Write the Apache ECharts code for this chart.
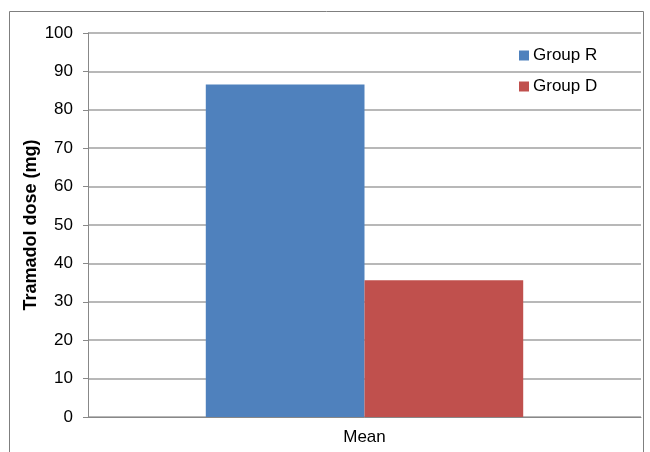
<!DOCTYPE html>
<html>
<head>
    <meta charset="utf-8">
    <script src="https://cdn.jsdelivr.net/npm/echarts@6/dist/echarts.min.js"></script>
    <style>
        body { margin: 0; background: #fff; }
    </style>
</head>
<body>
    <div id="main" style="width: 650px;height:452px;"></div>
    <script>
        // 数据
        var categories = ['Mean'];
        var groupNames = ['Group R', 'Group D'];
        var groupR = [86.6];
        var groupD = [35.6];
        var yTicks = [0, 10, 20, 30, 40, 50, 60, 70, 80, 90, 100];

        var myChart = echarts.init(document.getElementById('main'));
        var font = 'Liberation Sans, Arial, sans-serif';

        var option = {
            animation: false,
            color: ['#4f81bd', '#c0504d'],
            textStyle: { fontFamily: font },
            graphic: [{
                type: 'rect',
                shape: { x: 9.5, y: 11.5, width: 634, height: 470 },
                style: { fill: 'none', stroke: '#7f7f7f', lineWidth: 1 }
            }],
            legend: {
                orient: 'vertical',
                left: 514,
                top: 42,
                itemWidth: 10,
                itemHeight: 10,
                itemGap: 14,
                icon: 'rect',
                data: groupNames,
                textStyle: { fontSize: 17, color: '#000', fontFamily: font, padding: [0, 0, 0, -1] }
            },
            grid: {
                left: 88,
                right: 9,
                top: 33,
                bottom: 35
            },
            xAxis: {
                type: 'category',
                data: categories,
                axisLine: { lineStyle: { color: '#888', width: 1 } },
                axisTick: { show: false },
                axisLabel: { fontSize: 17, color: '#000', margin: 12 }
            },
            yAxis: {
                type: 'value',
                name: 'Tramadol dose (mg)',
                nameLocation: 'middle',
                nameGap: 48,
                nameMoveOverlap: false,
                nameTextStyle: { fontSize: 18, fontWeight: 'bold', color: '#000', fontFamily: font },
                min: yTicks[0],
                max: yTicks[yTicks.length - 1],
                interval: 10,
                axisLine: { show: true, lineStyle: { color: '#888', width: 1 } },
                axisTick: { show: true, length: 5, lineStyle: { color: '#888' } },
                axisLabel: { fontSize: 17, color: '#000', margin: 15 },
                splitLine: { lineStyle: { color: '#a0a0a0', width: 1.5 } }
            },
            series: [{
                name: groupNames[0],
                type: 'bar',
                data: groupR,
                barGap: '0%',
                barCategoryGap: '42.6%'
            }, {
                name: groupNames[1],
                type: 'bar',
                data: groupD,
                barGap: '0%',
                barCategoryGap: '42.6%'
            }]
        };
        myChart.setOption(option);
    </script>
</body>
</html>
